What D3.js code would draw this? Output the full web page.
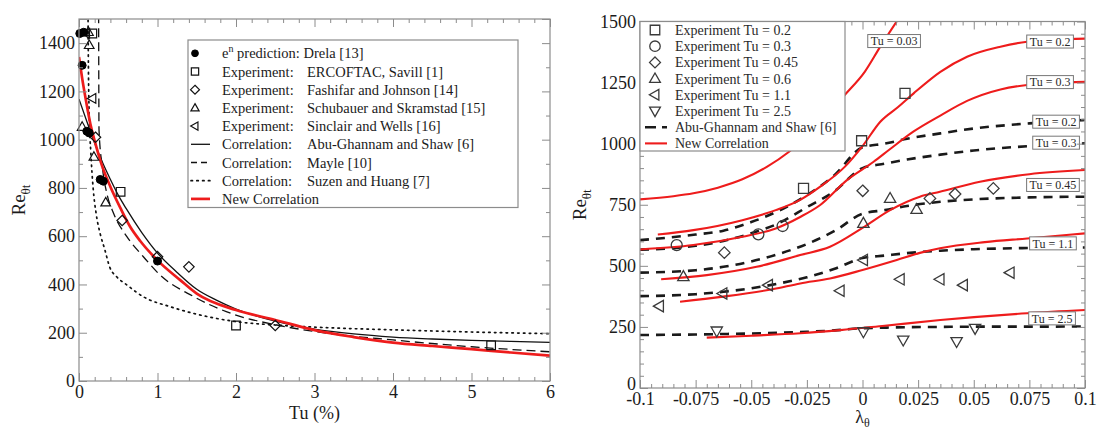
<!DOCTYPE html>
<html>
<head>
<meta charset="utf-8">
<script src="https://cdn.jsdelivr.net/npm/d3@7"></script>
<style>
  body { margin: 0; background: #fff; }
  svg { display: block; }
</style>
</head>
<body>
<script>
// ---------- Left panel: Re_θt at transition onset versus Tu (%) ----------
const tuTicks = [0, 1, 2, 3, 4, 5, 6];
const tuTickLabels = ["0", "1", "2", "3", "4", "5", "6"];
const reTicksL = [0, 200, 400, 600, 800, 1000, 1200, 1400];
const reTickLabelsL = ["0", "200", "400", "600", "800", "1000", "1200", "1400"];

// correlation curves
const tuAbu = [0, 0.1, 0.2, 0.3, 0.4, 0.5, 0.6, 0.8, 1.0, 1.25, 1.5, 1.75, 2.0, 2.5, 3.0, 3.5, 4.0, 4.5, 5.0, 5.5, 6.0];
const reAbu = [1168, 1075, 985, 905, 835, 770, 715, 615, 530, 450, 380, 335, 298, 248, 215, 195, 182, 174, 168, 164, 160];

const tuMayle = [0.25, 0.255, 0.3, 0.36, 0.44, 0.61, 0.82, 1.03, 1.46, 2.0, 2.52, 3.16, 4.0, 5.0, 6.0];
const reMayle = [1520, 1040, 880, 770, 695, 598, 515, 440, 350, 273, 232, 198, 170, 142, 121];

const tuSuzen = [0.115, 0.12, 0.13, 0.15, 0.18, 0.22, 0.27, 0.33, 0.39, 0.48, 0.61, 0.82, 1.16, 1.46, 2.0, 2.5, 3.15, 4.0, 5.0, 6.0];
const reSuzen = [1520, 1300, 1100, 950, 800, 690, 610, 543, 473, 432, 398, 349, 308, 280, 246, 232, 221, 212, 203, 196];

const tuNew = [0, 0.04, 0.09, 0.145, 0.2, 0.28, 0.4, 0.53, 0.65, 0.78, 1.0, 1.29, 1.5, 2.0, 2.5, 3.0, 3.5, 4.0, 4.5, 5.0, 5.5, 6.0];
const reNew = [1343, 1255, 1160, 1065, 995, 905, 805, 715, 640, 580, 500, 418, 362, 294, 253, 211, 182, 159, 145, 132, 118, 105];

// measured / predicted points
const tuDrela = [0.01, 0.06, 0.04, 0.1, 0.13, 0.27, 0.31, 1.0];
const reDrela = [1440, 1445, 1308, 1035, 1028, 835, 828, 497];
const tuSavill = [0.17, 0.53, 2.0, 5.25];
const reSavill = [1440, 784, 230, 148];
const tuFashifar = [0.21, 0.55, 1.0, 1.4, 2.5];
const reFashifar = [1010, 665, 515, 473, 230];
const tuSchubauer = [0.12, 0.13, 0.04, 0.19, 0.34];
const reSchubauer = [1446, 1392, 1053, 929, 740];
const tuSinclair = [0.09, 0.17];
const reSinclair = [1440, 1171];

// ---------- Right panel: Re_θt versus pressure-gradient parameter λθ ----------
const lamTicks = [-0.1, -0.075, -0.05, -0.025, 0, 0.025, 0.05, 0.075, 0.1];
const lamTickLabels = ["-0.1", "-0.075", "-0.05", "-0.025", "0", "0.025", "0.05", "0.075", "0.1"];
const reTicksR = [0, 250, 500, 750, 1000, 1250, 1500];
const reTickLabelsR = ["0", "250", "500", "750", "1000", "1250", "1500"];

// new correlation, one curve per turbulence level
const lamNew003 = [-0.1, -0.085, -0.076, -0.065, -0.054, -0.043, -0.033, -0.02, -0.008, 0.001, 0.008, 0.016];
const reNew003 = [772, 785, 797, 820, 854, 905, 967, 1075, 1199, 1294, 1397, 1509];
const lamNew02 = [-0.092, -0.076, -0.054, -0.039, -0.028, -0.019, -0.008, 0, 0.008, 0.016, 0.023, 0.035, 0.047, 0.062, 0.074, 0.1];
const reNew02 = [628, 646, 687, 728, 770, 824, 905, 990, 1090, 1150, 1206, 1294, 1356, 1397, 1417, 1430];
const lamNew03 = [-0.1, -0.076, -0.054, -0.039, -0.028, -0.019, -0.007, 0.005, 0.012, 0.023, 0.035, 0.047, 0.062, 0.074, 0.1];
const reNew03 = [567, 585, 619, 653, 700, 749, 851, 926, 975, 1050, 1115, 1175, 1222, 1240, 1253];
const lamNew045 = [-0.0905, -0.07, -0.0476, -0.028, -0.0146, 0, 0.0124, 0.0258, 0.0348, 0.0528, 0.075, 0.1];
const reNew045 = [445, 462, 496, 544, 578, 655, 728, 783, 803, 844, 875, 892];
const lamNew11 = [-0.082, -0.0626, -0.04, -0.028, -0.0146, 0, 0.0154, 0.0258, 0.0348, 0.055, 0.074, 0.1];
const reNew11 = [353, 374, 405, 428, 448, 483, 524, 553, 572, 597, 612, 633];
const lamNew25 = [-0.07, -0.05, -0.028, -0.01, 0.01, 0.035, 0.074, 0.1];
const reNew25 = [206, 214, 224, 237, 255, 278, 306, 319];

// Abu-Ghannam and Shaw, shared λθ stations
const lamAbu = [-0.1, -0.075, -0.0625, -0.05, -0.0375, -0.025, -0.0125, 0, 0.01, 0.02, 0.035, 0.05, 0.075, 0.1];
const reAbu02 = [605, 628, 644, 679, 726, 789, 872, 985, 1000, 1020, 1042, 1062, 1083, 1097];
const reAbu03 = [566, 582, 602, 633, 675, 740, 806, 900, 918, 935, 955, 972, 990, 1001];
const reAbu06 = [472, 482, 496, 518, 549, 589, 643, 713, 728, 745, 762, 772, 780, 783];
const reAbu11 = [376, 384, 394, 408, 428, 453, 488, 532, 542, 552, 562, 568, 573, 575];
const reAbu25 = [217, 219, 221, 223, 226, 230, 236, 245, 247, 249, 250, 251, 251, 252];

// experiments
const lamExp02 = [-0.0265, -0.0004, 0.0191];
const reExp02 = [817, 1012, 1206];
const lamExp03 = [-0.0835, -0.0468, -0.0359];
const reExp03 = [585, 629, 663];
const lamExp045 = [-0.0621, 0.0001, 0.0303, 0.0416, 0.0588];
const reExp045 = [554, 807, 776, 794, 817];
const lamExp06 = [-0.0805, 0.0004, 0.0124, 0.0243];
const reExp06 = [456, 674, 776, 731];
const lamExp11 = [-0.0913, -0.0628, -0.0423, -0.0101, 0.0004, 0.0169, 0.0348, 0.0453, 0.0663];
const reExp11 = [335, 387, 421, 398, 524, 445, 445, 421, 472];
const lamExp25 = [-0.0655, 0.0004, 0.0183, 0.0423, 0.0506];
const reExp25 = [233, 230, 196, 190, 244];

// curve tags drawn inside the plot
const tagText = ["Tu = 0.03", "Tu = 0.2", "Tu = 0.3", "Tu = 0.2", "Tu = 0.3", "Tu = 0.45", "Tu = 1.1", "Tu = 2.5"];
const tagLam = [0.0142, 0.0843, 0.0843, 0.087, 0.087, 0.0856, 0.0856, 0.0852];
const tagRe = [1420, 1418, 1252, 1090, 1004, 831, 592, 285];

// ---------- drawing ----------
const FONT = "'Liberation Serif','Times New Roman',Times,serif";
const FRAME = "#8c8c8c";
const RED = "#ee1c1c";

const svg = d3.select("body").append("svg")
  .attr("width", 1101).attr("height", 429)
  .style("font-family", FONT);

function zip(xs, ys) { return xs.map((v, i) => [v, ys[i]]); }

function markerPath(type, r) {
  switch (type) {
    case "square": return `M${-r},${-r}H${r}V${r}H${-r}Z`;
    case "diamond": { const q = r * 1.25; return `M0,${-q}L${q},0L0,${q}L${-q},0Z`; }
    case "circle": return `M${r},0A${r},${r} 0 1,1 ${-r},0A${r},${r} 0 1,1 ${r},0Z`;
    case "up": return `M0,${-r * 1.1}L${r * 1.05},${r * 0.75}L${-r * 1.05},${r * 0.75}Z`;
    case "down": return `M0,${r * 1.1}L${r * 1.05},${-r * 0.75}L${-r * 1.05},${-r * 0.75}Z`;
    case "left": return `M${-r * 1.1},0L${r * 0.75},${-r * 1.05}L${r * 0.75},${r * 1.05}Z`;
  }
}

function styleAxis(sel, fontSize) {
  sel.attr("font-family", null);
  sel.select(".domain").remove();
  sel.selectAll("line").attr("stroke", FRAME).attr("stroke-width", 1);
  sel.selectAll("text").style("font-family", FONT).attr("font-size", fontSize).attr("fill", "#1b1b1b");
}

function drawFrame(g, x, y, spec) {
  const [xa, xb] = x.range();
  const [yb, ya] = y.range();
  const sides = [
    [d3.axisBottom, `translate(0,${yb})`, x, spec.xMinor, spec.xMajor, spec.xLabels],
    [d3.axisTop, `translate(0,${ya})`, x, spec.xMinor, spec.xMajor, null],
    [d3.axisLeft, `translate(${xa},0)`, y, spec.yMinor, spec.yMajor, spec.yLabels],
    [d3.axisRight, `translate(${xb},0)`, y, spec.yMinor, spec.yMajor, null]
  ];
  const out = {};
  sides.forEach(([make, tr, sc, minor, major, labels], k) => {
    g.append("g").attr("transform", tr)
      .call(make(sc).tickValues(minor).tickSizeInner(-4).tickSizeOuter(0).tickFormat(""))
      .call(s => styleAxis(s, 18));
    const ax = g.append("g").attr("transform", tr)
      .call(make(sc).tickValues(major).tickSizeInner(-8).tickSizeOuter(0)
        .tickPadding(4)
        .tickFormat((d, i) => labels ? labels[i] : ""))
      .call(s => styleAxis(s, 18));
    if (k === 2) out.left = ax;
  });
  g.append("rect")
    .attr("x", xa).attr("y", ya).attr("width", xb - xa).attr("height", yb - ya)
    .attr("fill", "none").attr("stroke", FRAME).attr("stroke-width", 1.2);
  return out;
}

function clipFor(id, x, y) {
  const [xa, xb] = x.range();
  const [yb, ya] = y.range();
  svg.append("clipPath").attr("id", id)
    .append("rect").attr("x", xa).attr("y", ya).attr("width", xb - xa).attr("height", yb - ya);
  return `url(#${id})`;
}

function drawCurve(g, x, y, xs, ys, style) {
  const line = d3.line().x(d => x(d[0])).y(d => y(d[1])).curve(d3.curveMonotoneX);
  g.append("path").datum(zip(xs, ys))
    .attr("d", line)
    .attr("fill", "none")
    .attr("stroke", style.color)
    .attr("stroke-width", style.width)
    .attr("stroke-dasharray", style.dash || null)
    .attr("stroke-linecap", style.cap || "butt");
}

function drawMarkers(g, x, y, xs, ys, m) {
  g.selectAll(null).data(zip(xs, ys)).enter().append("path")
    .attr("transform", d => `translate(${x(d[0])},${y(d[1])})`)
    .attr("d", markerPath(m.type, m.r))
    .attr("fill", m.fill || "none")
    .attr("stroke", m.stroke)
    .attr("stroke-width", m.sw);
}

function reTitle(g, cx, cy) {
  const t = g.append("text")
    .attr("transform", `translate(${cx},${cy}) rotate(-90)`)
    .attr("text-anchor", "middle")
    .attr("font-size", 19).attr("fill", "#1b1b1b");
  t.append("tspan").text("Re");
  t.append("tspan").attr("dy", 5).attr("font-size", 13).text("θt");
}

// ----- left panel -----
const xL = d3.scaleLinear().domain([0, 6]).range([79, 550]);
const yL = d3.scaleLinear().domain([0, 1500]).range([381, 19]);
const gL = svg.append("g");
const clipL = clipFor("clip-left", xL, yL);

const curvesL = gL.append("g").attr("clip-path", clipL);
const styleAbuL = { color: "#111", width: 1.3 };
const styleMayleL = { color: "#111", width: 1.3, dash: "9,5" };
const styleSuzenL = { color: "#111", width: 1.7, dash: "1.5,4.3", cap: "round" };
const styleNewL = { color: RED, width: 2.7 };
drawCurve(curvesL, xL, yL, tuSuzen, reSuzen, styleSuzenL);
drawCurve(curvesL, xL, yL, tuMayle, reMayle, styleMayleL);
drawCurve(curvesL, xL, yL, tuAbu, reAbu, styleAbuL);
drawCurve(curvesL, xL, yL, tuNew, reNew, styleNewL);

const mDrela = { type: "circle", r: 4, fill: "#000", stroke: "#000", sw: 1 };
const mSavill = { type: "square", r: 4.3, stroke: "#111", sw: 1.2 };
const mFashifar = { type: "diamond", r: 4.2, stroke: "#111", sw: 1.2 };
const mSchubauer = { type: "up", r: 4.6, stroke: "#111", sw: 1.2 };
const mSinclair = { type: "left", r: 4.6, stroke: "#111", sw: 1.2 };
const marksL = gL.append("g");
drawMarkers(marksL, xL, yL, tuSavill, reSavill, mSavill);
drawMarkers(marksL, xL, yL, tuFashifar, reFashifar, mFashifar);
drawMarkers(marksL, xL, yL, tuSchubauer, reSchubauer, mSchubauer);
drawMarkers(marksL, xL, yL, tuSinclair, reSinclair, mSinclair);
drawMarkers(marksL, xL, yL, tuDrela, reDrela, mDrela);

drawFrame(gL, xL, yL, {
  xMajor: tuTicks, xLabels: tuTickLabels,
  xMinor: d3.range(0, 6.001, 0.2).filter(v => Math.abs(v - Math.round(v)) > 1e-6),
  yMajor: reTicksL.concat([1500]), yLabels: reTickLabelsL.concat([""]),
  yMinor: d3.range(100, 1500, 200)
});

gL.append("text")
  .attr("x", (xL.range()[0] + xL.range()[1]) / 2).attr("y", 419)
  .attr("text-anchor", "middle").attr("font-size", 18).attr("fill", "#1b1b1b")
  .text("Tu (%)");
reTitle(gL, 25, (yL.range()[0] + yL.range()[1]) / 2);

// left legend
const legL = gL.append("g");
const lgX = 188, lgY = 40, lgW = 330, lgH = 167.5, lgRow = 18.2, lgTop = 53.3;
legL.append("rect").attr("x", lgX).attr("y", lgY).attr("width", lgW).attr("height", lgH)
  .attr("fill", "#fff").attr("stroke", FRAME).attr("stroke-width", 1.2);
const legendL = [
  { marker: mDrela, head: null, body: "prediction: Drela [13]" },
  { marker: mSavill, head: "Experiment:", body: "ERCOFTAC, Savill [1]" },
  { marker: mFashifar, head: "Experiment:", body: "Fashifar and Johnson [14]" },
  { marker: mSchubauer, head: "Experiment:", body: "Schubauer and Skramstad [15]" },
  { marker: mSinclair, head: "Experiment:", body: "Sinclair and Wells [16]" },
  { line: styleAbuL, head: "Correlation:", body: "Abu-Ghannam and Shaw [6]" },
  { line: styleMayleL, head: "Correlation:", body: "Mayle [10]" },
  { line: styleSuzenL, head: "Correlation:", body: "Suzen and Huang [7]" },
  { line: styleNewL, head: "New Correlation", body: null }
];
legendL.forEach((e, i) => {
  const cy = lgTop + i * lgRow;
  if (e.marker) {
    legL.append("path").attr("transform", `translate(195,${cy})`)
      .attr("d", markerPath(e.marker.type, e.marker.r * 0.85))
      .attr("fill", e.marker.fill || "none").attr("stroke", e.marker.stroke).attr("stroke-width", e.marker.sw);
  } else {
    legL.append("line").attr("x1", 191).attr("x2", 210).attr("y1", cy).attr("y2", cy)
      .attr("stroke", e.line.color).attr("stroke-width", e.line.width)
      .attr("stroke-dasharray", e.line.dash ? (e.line.dash === "9,5" ? "6,4" : e.line.dash) : null)
      .attr("stroke-linecap", e.line.cap || "butt");
  }
  const t = legL.append("text").attr("y", cy).attr("dy", "0.35em")
    .attr("font-size", 14.5).attr("fill", "#1b1b1b");
  if (e.head === null) {
    t.append("tspan").attr("x", 222).text("e");
    t.append("tspan").attr("dy", -6).attr("font-size", 10).text("n");
    t.append("tspan").attr("dy", 6).text(" " + e.body);
  } else {
    t.append("tspan").attr("x", 222).text(e.head);
    if (e.body) t.append("tspan").attr("x", 307).text(e.body);
  }
});

// ----- right panel -----
const xR = d3.scaleLinear().domain([-0.1, 0.1]).range([640, 1085]);
const yR = d3.scaleLinear().domain([0, 1500]).range([388, 21.5]);
const gR = svg.append("g");
const clipR = clipFor("clip-right", xR, yR);

const styleNewR = { color: RED, width: 2.1 };
const styleAbuR = { color: "#1a1a1a", width: 2.6, dash: "9,7" };
const curvesR = gR.append("g").attr("clip-path", clipR);
[[lamAbu, reAbu02], [lamAbu, reAbu03], [lamAbu, reAbu06], [lamAbu, reAbu11], [lamAbu, reAbu25]]
  .forEach(([xs, ys]) => drawCurve(curvesR, xR, yR, xs, ys, styleAbuR));
[[lamNew003, reNew003], [lamNew02, reNew02], [lamNew03, reNew03], [lamNew045, reNew045], [lamNew11, reNew11], [lamNew25, reNew25]]
  .forEach(([xs, ys]) => drawCurve(curvesR, xR, yR, xs, ys, styleNewR));

const MK = "#3a3a3a";
const mR02 = { type: "square", r: 5, stroke: MK, sw: 1.3 };
const mR03 = { type: "circle", r: 5.5, stroke: MK, sw: 1.3 };
const mR045 = { type: "diamond", r: 4.6, stroke: MK, sw: 1.3 };
const mR06 = { type: "up", r: 5.4, stroke: MK, sw: 1.3 };
const mR11 = { type: "left", r: 5.4, stroke: MK, sw: 1.3 };
const mR25 = { type: "down", r: 5.4, stroke: MK, sw: 1.3 };
const marksR = gR.append("g");
drawMarkers(marksR, xR, yR, lamExp02, reExp02, mR02);
drawMarkers(marksR, xR, yR, lamExp03, reExp03, mR03);
drawMarkers(marksR, xR, yR, lamExp045, reExp045, mR045);
drawMarkers(marksR, xR, yR, lamExp06, reExp06, mR06);
drawMarkers(marksR, xR, yR, lamExp11, reExp11, mR11);
drawMarkers(marksR, xR, yR, lamExp25, reExp25, mR25);

// curve tags
const tags = gR.append("g");
tagText.forEach((s, i) => {
  const cx = xR(tagLam[i]), cy = yR(tagRe[i]);
  const tg = tags.append("g");
  const rect = tg.append("rect");
  const t = tg.append("text").attr("x", cx).attr("y", cy).attr("dy", "0.35em")
    .attr("text-anchor", "middle").attr("font-size", 12).attr("fill", "#2a2a2a").text(s);
  const b = t.node().getBBox();
  rect.attr("x", b.x - 3).attr("y", cy - 6.5).attr("width", b.width + 6).attr("height", 13)
    .attr("fill", "#fff").attr("stroke", "#777").attr("stroke-width", 1);
});

const axesR = drawFrame(gR, xR, yR, {
  xMajor: lamTicks, xLabels: lamTickLabels,
  xMinor: d3.range(-0.1, 0.1001, 0.005).filter(v => Math.abs(v / 0.025 - Math.round(v / 0.025)) > 1e-6),
  yMajor: reTicksR, yLabels: reTickLabelsR,
  yMinor: d3.range(50, 1500, 50).filter(v => v % 250 !== 0)
});
// lift the corner "0" slightly so it clears the "-0.1" below it
axesR.left.selectAll(".tick").filter(d => d === 0).select("text").attr("dy", "0.1em");

const lamTitle = gR.append("text")
  .attr("x", (xR.range()[0] + xR.range()[1]) / 2).attr("y", 423)
  .attr("text-anchor", "middle").attr("font-size", 18).attr("fill", "#1b1b1b");
lamTitle.append("tspan").text("λ");
lamTitle.append("tspan").attr("dy", 4).attr("font-size", 12).text("θ");
reTitle(gR, 586, (yR.range()[0] + yR.range()[1]) / 2);

// right legend
const legR = gR.append("g");
const rgX = 640, rgY = 21.5, rgW = 205, rgH = 129.5, rgRow = 16.2, rgTop = 30;
legR.append("rect").attr("x", rgX).attr("y", rgY).attr("width", rgW).attr("height", rgH)
  .attr("fill", "#fff").attr("stroke", FRAME).attr("stroke-width", 1.2);
const legendR = [
  { marker: mR02, text: "Experiment Tu = 0.2" },
  { marker: mR03, text: "Experiment Tu = 0.3" },
  { marker: mR045, text: "Experiment Tu = 0.45" },
  { marker: mR06, text: "Experiment Tu = 0.6" },
  { marker: mR11, text: "Experiment Tu = 1.1" },
  { marker: mR25, text: "Experiment Tu = 2.5" },
  { line: styleAbuR, text: "Abu-Ghannam and Shaw [6]" },
  { line: styleNewR, text: "New Correlation" }
];
legendR.forEach((e, i) => {
  const cy = rgTop + i * rgRow;
  if (e.marker) {
    legR.append("path").attr("transform", `translate(655,${cy})`)
      .attr("d", markerPath(e.marker.type, e.marker.r * 0.95))
      .attr("fill", "none").attr("stroke", e.marker.stroke).attr("stroke-width", e.marker.sw);
  } else {
    legR.append("line").attr("x1", 645).attr("x2", 667).attr("y1", cy).attr("y2", cy)
      .attr("stroke", e.line.color).attr("stroke-width", e.line.width)
      .attr("stroke-dasharray", e.line.dash ? "11,6" : null);
  }
  legR.append("text").attr("x", 675).attr("y", cy).attr("dy", "0.35em")
    .attr("font-size", 14).attr("fill", "#2a2a2a").text(e.text);
});
</script>
</body>
</html>
